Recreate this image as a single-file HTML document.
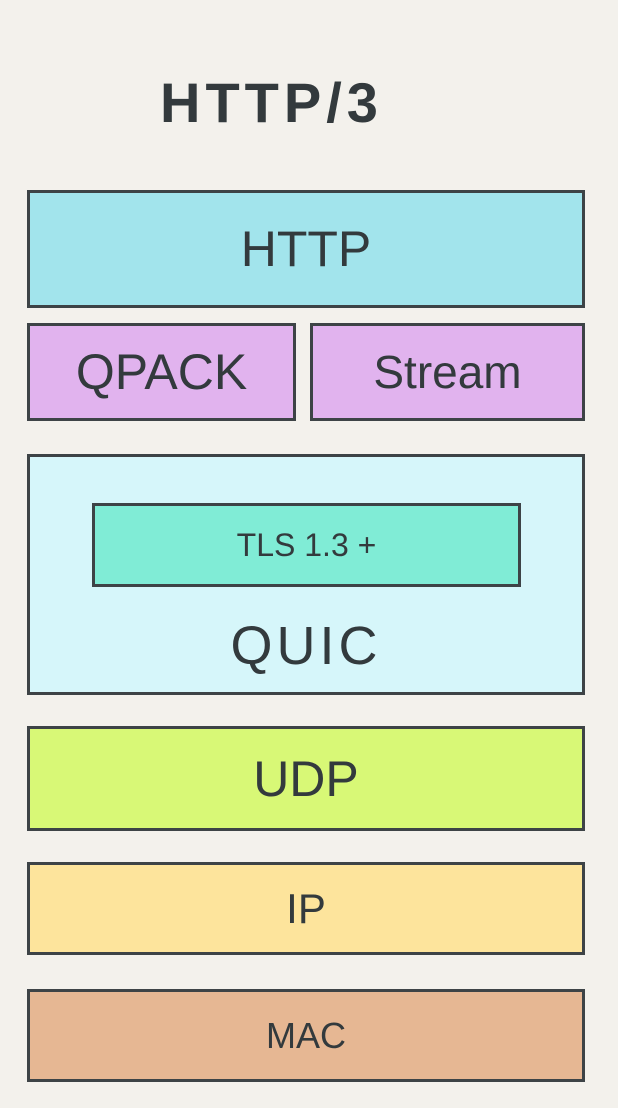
<!DOCTYPE html>
<html><head><meta charset="utf-8"><style>
html,body{margin:0;padding:0}
body{width:618px;height:1108px;background:#f3f1ec;position:relative;overflow:hidden;font-family:"Liberation Sans","DejaVu Sans",sans-serif;color:#333a3d}
.b{position:absolute;box-sizing:border-box;border:3px solid #3d4346;display:flex;align-items:center;justify-content:center;font-weight:normal}
.t{position:absolute;left:0;width:100%;text-align:center}
</style></head><body>
<div style="position:absolute;left:160px;top:70px;font-size:56px;font-weight:bold;letter-spacing:5px;color:#333a3d">HTTP/3</div>
<div class="b" style="left:27px;top:190px;width:558px;height:118px;background:#a2e4ec;font-size:50px">HTTP</div>
<div class="b" style="left:27px;top:323px;width:269px;height:98px;background:#e1b3ee;font-size:50px">QPACK</div>
<div class="b" style="left:310px;top:323px;width:275px;height:98px;background:#e1b3ee;font-size:46px">Stream</div>
<div class="b" style="left:27px;top:454px;width:558px;height:241px;background:#d6f6fa;display:block">
  <div class="b" style="left:62px;top:46px;width:429px;height:84px;background:#80ecd6;font-size:32px">TLS 1.3 +</div>
  <div class="t" style="top:158px;font-size:54px;letter-spacing:4px">QUIC</div>
</div>
<div class="b" style="left:27px;top:726px;width:558px;height:105px;background:#d8f876;font-size:50px">UDP</div>
<div class="b" style="left:27px;top:862px;width:558px;height:93px;background:#fde49c;font-size:42px">IP</div>
<div class="b" style="left:27px;top:989px;width:558px;height:93px;background:#e6b793;font-size:36px">MAC</div>
</body></html>
